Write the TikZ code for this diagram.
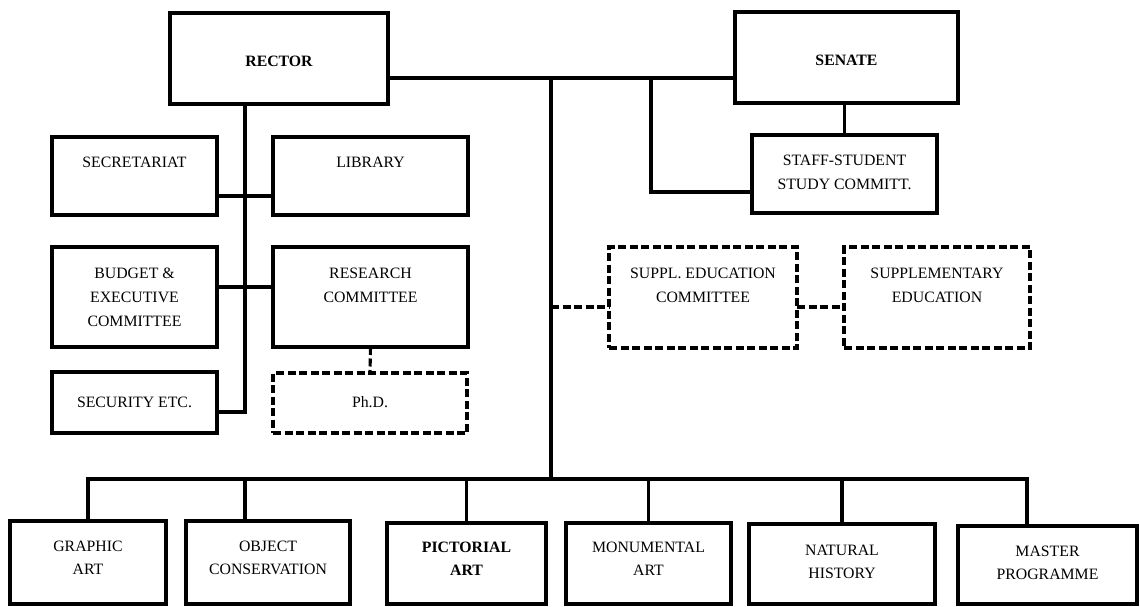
\documentclass[tikz,border=0pt]{standalone}
\usepackage{fontspec}
\setmainfont{Liberation Serif}
\newcommand{\boxtxt}[4]{\parbox[c][#2][t]{#1}{\centering\rule{0pt}{#3}#4}}
\tikzset{
  bx/.style={draw=black, line width=3.8pt, inner sep=0pt, outer sep=0pt, anchor=north west,
             font=\fontsize{15.8}{24}\selectfont},
  dbx/.style={bx, line width=3.2pt, dash pattern=on 8pt off 3.5pt},
  btm/.style={bx, font=\fontsize{15.8}{23}\selectfont},
  conn/.style={line width=3.1pt, line cap=rect},
  dconn/.style={line width=3.1pt, dash pattern=on 8pt off 3.5pt}
}
\begin{document}
\begin{tikzpicture}[x=1pt, y=-1pt]
\useasboundingbox (0,0) rectangle (1140,607);
\fill[white] (0,0) rectangle (1140,607);

% top level
\node[bx] (rector) at (170,13) {\boxtxt{218pt}{91pt}{54pt}{\bfseries RECTOR}};
\node[bx] (senate) at (735,12) {\boxtxt{223pt}{91pt}{54pt}{\bfseries SENATE}};

% rector side
\node[bx] (secr) at (52,137) {\boxtxt{165pt}{78pt}{30pt}{SECRETARIAT}};
\node[bx] (lib) at (273,137) {\boxtxt{195pt}{78pt}{30pt}{LIBRARY}};
\node[bx] (budget) at (52,247) {\boxtxt{165pt}{100pt}{31pt}{BUDGET \&\\EXECUTIVE\\COMMITTEE}};
\node[bx] (research) at (273,247) {\boxtxt{195pt}{100pt}{31pt}{RESEARCH\\COMMITTEE}};
\node[bx] (security) at (52,372) {\boxtxt{165pt}{61pt}{35pt}{SECURITY ETC.}};
\node[dbx] (phd) at (273,373) {\boxtxt{194pt}{60pt}{34pt}{Ph.D.}};

% senate side
\node[bx] (staff) at (752,135) {\boxtxt{185pt}{78pt}{30pt}{STAFF-STUDENT\\STUDY COMMITT.}};
\node[dbx] (suppl) at (609,247) {\boxtxt{188pt}{101pt}{31pt}{SUPPL. EDUCATION\\COMMITTEE}};
\node[dbx] (supp) at (844,247) {\boxtxt{186pt}{101pt}{31pt}{SUPPLEMENTARY\\EDUCATION}};

% bottom row
\node[btm] (graphic) at (10,521) {\boxtxt{156pt}{83pt}{30pt}{GRAPHIC\\ART}};
\node[btm] (object) at (186,521) {\boxtxt{164pt}{83pt}{30pt}{OBJECT\\CONSERVATION}};
\node[btm] (pictorial) at (387,523) {\boxtxt{159pt}{81pt}{29pt}{\bfseries PICTORIAL\\ART}};
\node[btm] (monumental) at (566,523) {\boxtxt{165pt}{81pt}{29pt}{MONUMENTAL\\ART}};
\node[btm] (natural) at (749,524) {\boxtxt{186pt}{80pt}{31pt}{NATURAL\\HISTORY}};
\node[btm] (master) at (958,526) {\boxtxt{179pt}{78pt}{30pt}{MASTER\\PROGRAMME}};

% helper coordinates
\coordinate (topbus) at (551,78);
\coordinate (bus) at (551,479);
\coordinate (rv) at (245,412);
\coordinate (sv) at (651,192);
\coordinate (secrow) at (0,196);
\coordinate (budrow) at (0,287);
\coordinate (edrow) at (0,307);
\coordinate (objdrop) at (245,0);
\coordinate (masdrop) at (1027,0);

% top connectors
\draw[conn] (rector.east |- topbus) -- (senate.west |- topbus);
\draw[conn] (topbus) -- (bus);
\draw[conn] (sv |- topbus) -- (sv) -- (staff.west |- sv);
\draw[conn] (staff.north) -- (staff.north |- senate.south);

% rector side connectors
\draw[conn] (rv |- rector.south) -- (rv) -- (security.east |- rv);
\draw[conn] (secr.east |- secrow) -- (lib.west |- secrow);
\draw[conn] (budget.east |- budrow) -- (research.west |- budrow);
\draw[dconn] (research.south) -- (phd.north);

% supplementary education (dashed)
\draw[dconn] (bus |- edrow) -- (suppl.west |- edrow);
\draw[dconn] (suppl.east |- edrow) -- (supp.west |- edrow);

% bottom bus
\draw[conn] (graphic.north |- bus) -- (masdrop |- bus);
\draw[conn] (graphic.north) -- (graphic.north |- bus);
\draw[conn] (objdrop |- object.north) -- (objdrop |- bus);
\draw[conn] (pictorial.north) -- (pictorial.north |- bus);
\draw[conn] (monumental.north) -- (monumental.north |- bus);
\draw[conn] (natural.north) -- (natural.north |- bus);
\draw[conn] (masdrop |- master.north) -- (masdrop |- bus);
\end{tikzpicture}
\end{document}
